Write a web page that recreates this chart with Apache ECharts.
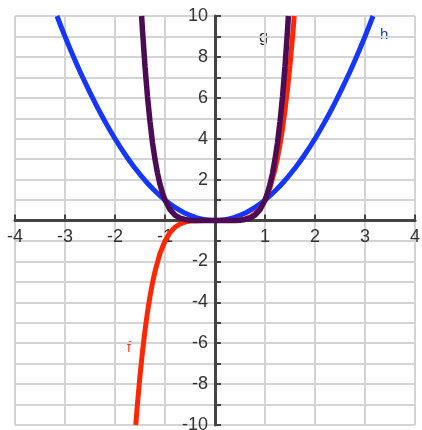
<!DOCTYPE html>
<html>
<head>
<meta charset="utf-8">
<script src="https://cdn.jsdelivr.net/npm/echarts@6/dist/echarts.min.js"></script>
<style>
  html, body { margin: 0; padding: 0; background: #fff; }
  #chart { width: 422px; height: 430px; }
</style>
</head>
<body>
<div id="chart"></div>
<script>
  // points: [x, y]
  var hData = [
    [-3.16, 10], [-3.0, 9], [-2.8, 7.84], [-2.6, 6.76], [-2.4, 5.76], [-2.2, 4.84],
    [-2.0, 4], [-1.8, 3.24], [-1.6, 2.56], [-1.4, 1.96], [-1.2, 1.44], [-1.0, 1],
    [-0.8, 0.64], [-0.6, 0.36], [-0.4, 0.16], [-0.2, 0.04], [0, 0],
    [0.2, 0.04], [0.4, 0.16], [0.6, 0.36], [0.8, 0.64], [1.0, 1], [1.2, 1.44],
    [1.4, 1.96], [1.6, 2.56], [1.8, 3.24], [2.0, 4], [2.2, 4.84], [2.4, 5.76],
    [2.6, 6.76], [2.8, 7.84], [3.0, 9], [3.16, 10]
  ];
  var gData = [
    [-1.468, 10], [-1.45, 9.29], [-1.4, 7.53], [-1.35, 6.05], [-1.3, 4.83],
    [-1.25, 3.81], [-1.2, 2.99], [-1.15, 2.31], [-1.1, 1.77], [-1.05, 1.34],
    [-1.0, 1], [-0.9, 0.53], [-0.8, 0.26], [-0.7, 0.12], [-0.6, 0.05],
    [-0.5, 0.016], [-0.4, 0.004], [-0.2, 0], [0, 0], [0.2, 0], [0.4, 0.004],
    [0.5, 0.016], [0.6, 0.05], [0.7, 0.12], [0.8, 0.26], [0.9, 0.53], [1.0, 1],
    [1.05, 1.34], [1.1, 1.77], [1.15, 2.31], [1.2, 2.99], [1.25, 3.81],
    [1.3, 4.83], [1.35, 6.05], [1.4, 7.53], [1.45, 9.29], [1.468, 10]
  ];
  var fData = [
    [-1.585, -10], [-1.55, -8.95], [-1.5, -7.59], [-1.45, -6.41], [-1.4, -5.38],
    [-1.35, -4.48], [-1.3, -3.71], [-1.25, -3.05], [-1.2, -2.49], [-1.1, -1.61],
    [-1.0, -1], [-0.9, -0.59], [-0.8, -0.33], [-0.7, -0.17], [-0.6, -0.08],
    [-0.5, -0.03], [-0.4, -0.01], [-0.2, 0], [0, 0], [0.2, 0], [0.4, 0.01],
    [0.5, 0.03], [0.6, 0.08], [0.7, 0.17], [0.8, 0.33], [0.9, 0.59], [1.0, 1],
    [1.1, 1.61], [1.2, 2.49], [1.25, 3.05], [1.3, 3.71], [1.35, 4.48],
    [1.4, 5.38], [1.45, 6.41], [1.5, 7.59], [1.55, 8.95], [1.585, 10]
  ];
  var xTicks = [-4, -3, -2, -1, 0, 1, 2, 3, 4];
  var yTicks = [-10, -8, -6, -4, -2, 2, 4, 6, 8, 10];

  var myChart = echarts.init(document.getElementById('chart'));
  var axisFont = { color: '#333', fontSize: 18, fontFamily: 'Liberation Sans, Arial, sans-serif' };
  var option = {
    backgroundColor: '#fff',
    animation: false,
    grid: { left: 15, right: 7, top: 16, bottom: 5, containLabel: false, outerBoundsMode: 'none' },
    xAxis: {
      type: 'value',
      min: xTicks[0],
      max: xTicks[xTicks.length - 1],
      interval: 1,
      axisLine: { onZero: true, lineStyle: { color: '#444', width: 3 } },
      axisTick: { inside: true, length: 6, lineStyle: { color: '#444', width: 2 } },
      // labels stay at the grid edge, so pull them up next to the zero line
      axisLabel: Object.assign({
        margin: -197,
        formatter: function (v) { return v === 0 ? '' : String(v); }
      }, axisFont),
      splitLine: { show: true, lineStyle: { color: '#d4d4d4', width: 2 } }
    },
    yAxis: {
      type: 'value',
      min: -10,
      max: 10,
      interval: 1,
      axisLine: { onZero: true, lineStyle: { color: '#444', width: 3 } },
      axisTick: { inside: true, length: 6, lineStyle: { color: '#444', width: 2 } },
      axisLabel: Object.assign({
        margin: -193,
        formatter: function (v) { return yTicks.indexOf(v) >= 0 ? String(v) : ''; }
      }, axisFont),
      splitLine: { show: true, lineStyle: { color: '#d4d4d4', width: 2 } }
    },
    series: [
      {
        name: 'h', type: 'line', data: hData, showSymbol: false, smooth: true,
        lineStyle: { color: '#1436ff', width: 5 }
      },
      {
        name: 'f', type: 'line', data: fData, showSymbol: false,
        lineStyle: { color: '#ff2600', width: 5 }
      },
      {
        name: 'g', type: 'line', data: gData, showSymbol: false,
        lineStyle: { color: '#4b0b55', width: 5.5 }
      }
    ],
    graphic: [
      { type: 'text', left: 380, top: 27, style: { text: 'h', fill: '#1f3fbf', font: '15px Liberation Sans' } },
      { type: 'text', left: 259, top: 30, style: { text: 'g', fill: '#222', font: '16px Liberation Sans' } },
      { type: 'text', left: 127, top: 341, style: { text: 'f', fill: '#ff3a1a', font: '14px Liberation Sans' } }
    ]
  };
  myChart.setOption(option);
</script>
</body>
</html>
